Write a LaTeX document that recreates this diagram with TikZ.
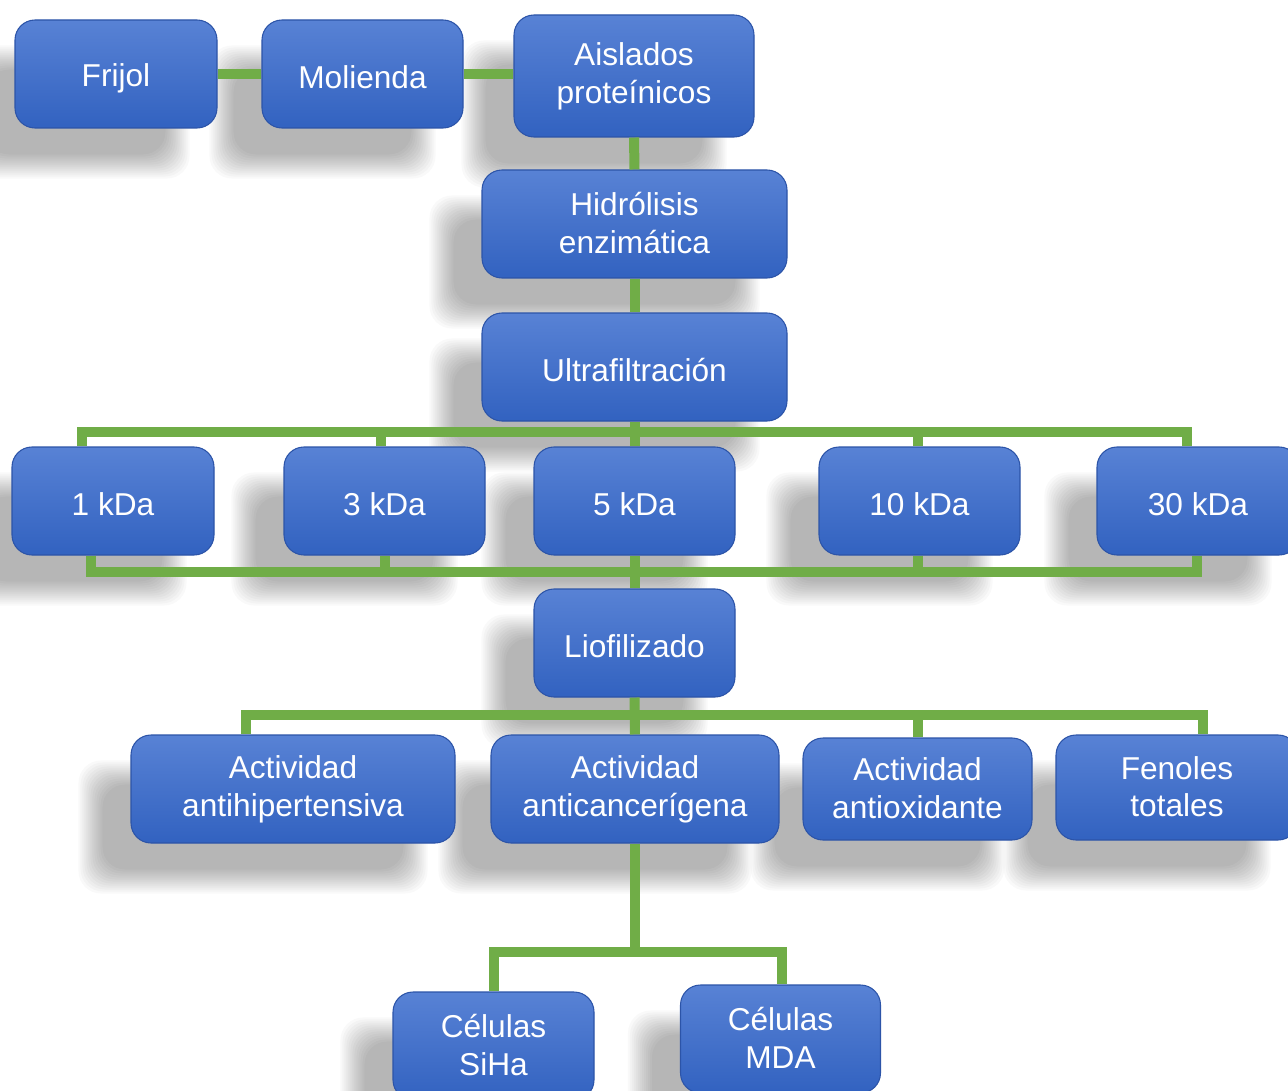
\documentclass[tikz,border=0pt]{standalone}
\usepackage{fontspec}
\setmainfont{Liberation Sans}
\usetikzlibrary{calc,backgrounds}
\definecolor{boxtop}{RGB}{88,130,213}
\definecolor{boxbot}{RGB}{50,98,192}
\definecolor{boxedge}{RGB}{44,84,168}
\definecolor{linkgreen}{RGB}{112,173,71}
\newcommand{\ppstrut}{\rule[-0.06em]{0pt}{1.06em}}
\begin{document}
\begin{tikzpicture}[x=0.02cm, y=-0.02cm,
    stage/.style={rectangle, rounded corners=0.4cm, draw=boxedge, line width=0.6pt,
        top color=boxtop, bottom color=boxbot, text=white, align=center,
        font=\fontsize{18}{21.5}\selectfont, inner sep=0pt,
        execute at begin node=\ppstrut, execute at end node=\ppstrut},
    dims/.style 2 args={minimum width=#1*0.02cm, minimum height=#2*0.02cm},
    shade layer/.style={fill=black, opacity=0.025, rounded corners=0.45cm},
    link/.style={draw=linkgreen, line width=0.2cm}]
    \clip (0, 0) rectangle (1288, 1091);

    \node[stage, dims={202}{108}] (frijol) at (116, 74) {Frijol};
    \node[stage, dims={201}{108}] (molienda) at (362.5, 74) {Molienda};
    \node[stage, dims={240}{122}] (aislados) at (634, 76) {Aislados\\proteínicos};
    \node[stage, dims={305}{108}] (hidrolisis) at (634.5, 224) {Hidrólisis\\enzimática};
    \node[stage, dims={305}{108}] (ultra) at (634.5, 367) {Ultrafiltración};

    \node[stage, dims={202}{108}] (kda1) at (113, 501) {1 kDa};
    \node[stage, dims={201}{108}] (kda3) at (384.5, 501) {3 kDa};
    \node[stage, dims={201}{108}] (kda5) at (634.5, 501) {5 kDa};
    \node[stage, dims={201}{108}] (kda10) at (919.5, 501) {10 kDa};
    \node[stage, dims={202}{108}] (kda30) at (1198, 501) {30 kDa};

    \node[stage, dims={201}{108}] (liof) at (634.5, 643) {Liofilizado};

    \node[stage, dims={324}{108}] (antihip) at (293, 789) {Actividad\\antihipertensiva};
    \node[stage, dims={288}{108}] (anticanc) at (635, 789) {Actividad\\anticancerígena};
    \node[stage, dims={229}{102}] (antiox) at (917.5, 789) {Actividad\\antioxidante};
    \node[stage, dims={242}{105}] (fenoles) at (1177, 787.5) {Fenoles\\totales};

    \node[stage, dims={201}{108}] (siha) at (493.5, 1046) {Células\\SiHa};
    \node[stage, dims={200}{108}] (mda) at (780.5, 1039) {Células\\MDA};

    \begin{scope}[on background layer]
        \fill[white] (0, 0) rectangle (1288, 1091);
        \foreach \nd in {frijol, molienda, aislados, hidrolisis, ultra,
            kda1, kda3, kda5, kda10, kda30, liof,
            antihip, anticanc, antiox, fenoles, siha, mda}
            \foreach \r in {0, 2, ..., 24}
                \fill[shade layer] ($(\nd.north west)+(-28-\r, 50-\r)$)
                rectangle ($(\nd.south east)+(-52+\r, 26+\r)$);
    \end{scope}

    \coordinate (busa) at (0, 432);
    \coordinate (busb) at (0, 572);
    \coordinate (busc) at (0, 715);
    \coordinate (busd) at (0, 952);

    \draw[link] (frijol.east) -- (molienda.west);
    \draw[link] (molienda.east) -- (molienda.east -| aislados.west);
    \draw[link] (aislados.south) -- (hidrolisis.north);
    \draw[link] (hidrolisis.south) -- (ultra.north);

    \draw[link] (ultra.south) -- (ultra.south |- busa);
    \draw[link] ($(kda1.north)+(-31,0)$) |- ($(kda30.north |- busa)+(-11,0)$)
    -- ($(kda30.north)+(-11,0)$);
    \draw[link] ($(kda3.north)+(-4,0)$) -- ($(kda3.north |- busa)+(-4,0)$);
    \draw[link] (kda5.north) -- (kda5.north |- busa);
    \draw[link] ($(kda10.north)+(-2,0)$) -- ($(kda10.north |- busa)+(-2,0)$);

    \draw[link] ($(kda1.south)+(-22,0)$) |- ($(kda30.south |- busb)+(-1,0)$)
    -- ($(kda30.south)+(-1,0)$);
    \draw[link] (kda3.south) -- (kda3.south |- busb);
    \draw[link] (kda5.south) -- (liof.north);
    \draw[link] ($(kda10.south)+(-2,0)$) -- ($(kda10.south |- busb)+(-2,0)$);

    \draw[link] (liof.south) -- (anticanc.north);
    \draw[link] ($(antihip.north)+(-47,0)$) |- ($(fenoles.north |- busc)+(26,0)$)
    -- ($(fenoles.north)+(26,0)$);
    \draw[link] (antiox.north) -- (antiox.north |- busc);

    \draw[link] (anticanc.south) -- (anticanc.south |- busd);
    \draw[link] (siha.north) |- ($(mda.north |- busd)+(1.5,0)$)
    -- ($(mda.north)+(1.5,0)$);
\end{tikzpicture}
\end{document}
